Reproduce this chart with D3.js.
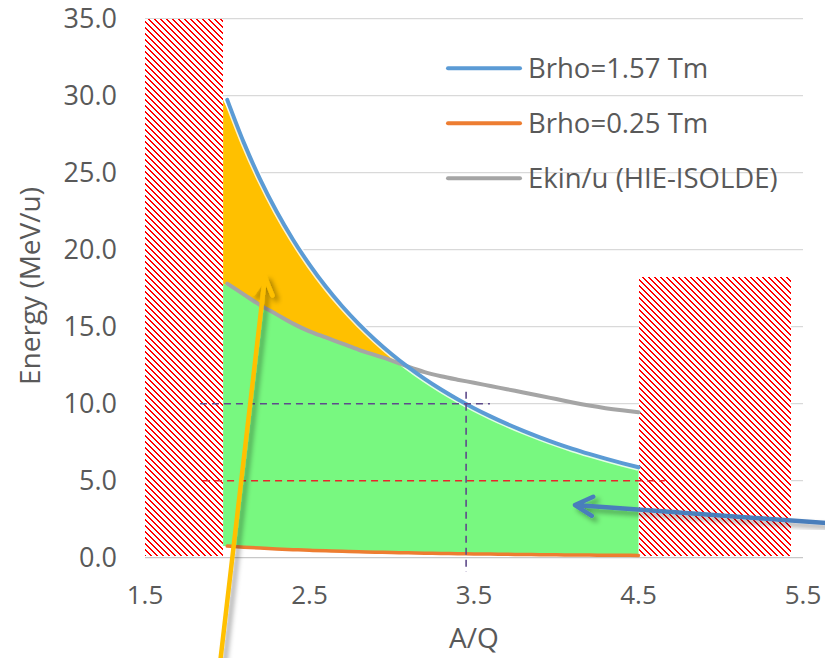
<!DOCTYPE html>
<html>
<head>
<meta charset="utf-8">
<script src="https://cdn.jsdelivr.net/npm/d3@7"></script>
<style>
  body { margin: 0; background: #fff; }
  svg { display: block; font-family: "Open Sans", sans-serif; }
</style>
</head>
<body>
<svg width="825" height="658"></svg>
<script>
// A/Q sample points
var aq = [2.0, 2.1, 2.2, 2.3, 2.4, 2.5, 2.6, 2.7, 2.8, 2.9, 3.0, 3.1, 3.2,
          3.3, 3.4, 3.5, 3.6, 3.7, 3.8, 3.9, 4.0, 4.1, 4.2, 4.3, 4.4, 4.5];
// Brho = 1.57 Tm (MeV/u)
var brhoHigh = [29.73, 26.97, 24.57, 22.48, 20.65, 19.03, 17.59, 16.31, 15.17, 14.14, 13.21, 12.37, 11.61,
                10.92, 10.29, 9.71, 9.18, 8.69, 8.24, 7.82, 7.43, 7.07, 6.74, 6.43, 6.14, 5.87];
// Brho = 0.25 Tm
var brhoLow = [0.754, 0.684, 0.623, 0.570, 0.524, 0.482, 0.446, 0.414, 0.385, 0.359, 0.335, 0.314, 0.294,
               0.277, 0.261, 0.246, 0.233, 0.220, 0.209, 0.198, 0.188, 0.179, 0.171, 0.163, 0.156, 0.149];
// Ekin/u (HIE-ISOLDE)
var ekin = [17.8, 17.1, 16.4, 15.8, 15.2, 14.7, 14.3, 13.9, 13.5, 13.15, 12.8, 12.4, 12.05,
            11.78, 11.56, 11.36, 11.15, 10.94, 10.73, 10.52, 10.3, 10.08, 9.88, 9.71, 9.57, 9.45];

var seriesNames = ["Brho=1.57 Tm", "Brho=0.25 Tm", "Ekin/u (HIE-ISOLDE)"];
var seriesColors = ["#5B9BD5", "#ED7D31", "#A5A5A5"];

var xTicks = [1.5, 2.5, 3.5, 4.5, 5.5];
var yTicks = [0, 5, 10, 15, 20, 25, 30, 35];

// excluded A/Q zones [from, to, top energy]
var leftZone = [1.5, 1.975, 35];
var rightZone = [4.5, 5.43, 18.2];
var fillFrom = 1.975;

// annotation lines, data units
var crossH = [[1.834, 10], [3.597, 10]];
var crossV = [[3.452, 10.78], [3.452, -0.93]];
var redLine = [[1.853, 5], [4.66, 5]];
var yellowArrow = [[1.96, -6.5], [2.229, 18.23]];
var blueArrow = [[5.73, 2.18], [4.114, 3.42]];

var svg = d3.select("svg");
var xs = d3.scaleLinear().domain([1.5, 5.5]).range([145, 803]);
var ys = d3.scaleLinear().domain([0, 35]).range([557.7, 18.7]);

var defs = svg.append("defs");
var shadow = defs.append("filter").attr("id", "shadow")
  .attr("x", "-20%").attr("y", "-20%").attr("width", "140%").attr("height", "140%");
shadow.append("feDropShadow").attr("dx", 4).attr("dy", 4).attr("stdDeviation", 2.5)
  .attr("flood-color", "#000").attr("flood-opacity", 0.35);

// gridlines
svg.append("g").selectAll("line")
  .data(yTicks)
  .enter().append("line")
  .attr("x1", xs(1.5)).attr("x2", xs(5.5))
  .attr("y1", function(d) { return ys(d); })
  .attr("y2", function(d) { return ys(d); })
  .attr("stroke", function(d) { return d === 0 ? "#C8C8C8" : "#D9D9D9"; })
  .attr("stroke-width", 1.3);

// tick labels
svg.append("g").selectAll("text")
  .data(yTicks)
  .enter().append("text")
  .attr("x", 117).attr("y", function(d) { return ys(d) + 9.5; })
  .attr("text-anchor", "end").attr("font-size", 27).attr("fill", "#595959")
  .text(function(d) { return d3.format(".1f")(d); });

svg.append("g").selectAll("text")
  .data(xTicks)
  .enter().append("text")
  .attr("x", function(d) { return xs(d); }).attr("y", 604)
  .attr("text-anchor", "middle").attr("font-size", 26).attr("fill", "#595959")
  .text(function(d) { return d3.format(".1f")(d); });

svg.append("text")
  .attr("x", xs(3.5)).attr("y", 648)
  .attr("text-anchor", "middle").attr("font-size", 28).attr("fill", "#595959")
  .text("A/Q");

svg.append("text")
  .attr("transform", "translate(40," + 286 + ") rotate(-90)")
  .attr("text-anchor", "middle").attr("font-size", 28).attr("fill", "#595959")
  .text("Energy (MeV/u)");

var rows = aq.map(function(d, i) {
  return { aq: d, hi: brhoHigh[i], lo: brhoLow[i], ek: ekin[i] };
});
function fx(d, i) { return xs(i === 0 ? fillFrom : d.aq); }

// green: accessible region below both limits
svg.append("path")
  .datum(rows)
  .attr("fill", "#78F880")
  .attr("d", d3.area().curve(d3.curveMonotoneX)
    .x(fx)
    .y0(function(d) { return ys(d.lo); })
    .y1(function(d) { return ys(Math.min(d.hi, d.ek)); }));

// yellow: between Ekin/u and Brho=1.57
svg.append("path")
  .datum(rows)
  .attr("fill", "#FFC000")
  .attr("d", d3.area().curve(d3.curveMonotoneX)
    .x(fx)
    .y0(function(d) { return ys(d.ek); })
    .y1(function(d) { return ys(Math.max(d.hi, d.ek)); }));

// hatched zones: white box with red diagonal lines clipped to it
[leftZone, rightZone].forEach(function(z, k) {
  var x0 = Math.round(xs(z[0])), x1 = Math.round(xs(z[1]));
  var y0 = Math.round(ys(z[2])), y1 = Math.round(ys(0)) - 2;
  defs.append("clipPath").attr("id", "zone" + k)
    .append("rect").attr("x", x0).attr("y", y0).attr("width", x1 - x0).attr("height", y1 - y0);
  var g = svg.append("g").attr("clip-path", "url(#zone" + k + ")");
  g.append("rect").attr("x", x0).attr("y", y0).attr("width", x1 - x0).attr("height", y1 - y0)
    .attr("fill", "#fff");
  var h = y1 - y0;
  g.selectAll("line")
    .data(d3.range(x0 - h, x1 + 6, 6))
    .enter().append("line")
    .attr("x1", function(d) { return d + 0.5; }).attr("y1", y0)
    .attr("x2", function(d) { return d + h + 0.5; }).attr("y2", y0 + h)
    .attr("stroke", "#FF0000").attr("stroke-width", 1.4)
    .attr("shape-rendering", "crispEdges");
});

// series lines
var line = d3.line().curve(d3.curveMonotoneX)
  .x(function(d, i) { return xs(aq[i]); })
  .y(function(d) { return ys(d); });

svg.append("path").datum(brhoHigh)
  .attr("fill", "none").attr("stroke", "#fff").attr("stroke-opacity", 0.8)
  .attr("stroke-width", 7).attr("d", line);

[brhoLow, ekin, brhoHigh].forEach(function(s, k) {
  var idx = [1, 2, 0][k];
  svg.append("path").datum(s)
    .attr("fill", "none")
    .attr("stroke", seriesColors[idx])
    .attr("stroke-width", idx === 1 ? 3.5 : 4)
    .attr("stroke-linecap", "round")
    .attr("d", line);
});

// dashed guide lines
var seg = d3.line().x(function(d) { return xs(d[0]); }).y(function(d) { return ys(d[1]); });
svg.append("path").datum(crossH).attr("d", seg)
  .attr("stroke", "#5E4B8B").attr("stroke-width", 1.6).attr("stroke-dasharray", "7,5");
svg.append("path").datum(crossV).attr("d", seg)
  .attr("stroke", "#5E4B8B").attr("stroke-width", 1.6).attr("stroke-dasharray", "7,5");
svg.append("path").datum(redLine).attr("d", seg)
  .attr("stroke", "#E8262B").attr("stroke-width", 1.6).attr("stroke-dasharray", "7,5");

// arrows
function arrow(pts, color) {
  var a = [xs(pts[0][0]), ys(pts[0][1])], b = [xs(pts[1][0]), ys(pts[1][1])];
  var ang = Math.atan2(b[1] - a[1], b[0] - a[0]);
  var len = 20, spread = 0.5;
  var p1 = [b[0] - len * Math.cos(ang - spread), b[1] - len * Math.sin(ang - spread)];
  var p2 = [b[0] - len * Math.cos(ang + spread), b[1] - len * Math.sin(ang + spread)];
  svg.append("path")
    .attr("d", "M" + a + "L" + b + "M" + p1 + "L" + b + "L" + p2)
    .attr("fill", "none").attr("stroke", color).attr("stroke-width", 4.5)
    .attr("stroke-linecap", "round").attr("stroke-linejoin", "round")
    .attr("filter", "url(#shadow)");
}
arrow(yellowArrow, "#FFC000");
arrow(blueArrow, "#4A7EBB");

// legend
var legend = svg.append("g").selectAll("g")
  .data(seriesNames)
  .enter().append("g")
  .attr("transform", function(d, i) { return "translate(448," + (68.3 + i * 55) + ")"; });
legend.append("line")
  .attr("x1", 0).attr("x2", 72)
  .attr("stroke", function(d, i) { return seriesColors[i]; })
  .attr("stroke-width", 4).attr("stroke-linecap", "round");
legend.append("text")
  .attr("x", 80).attr("y", 10)
  .attr("font-size", 27.5).attr("fill", "#595959")
  .text(function(d) { return d; });
</script>
</body>
</html>
